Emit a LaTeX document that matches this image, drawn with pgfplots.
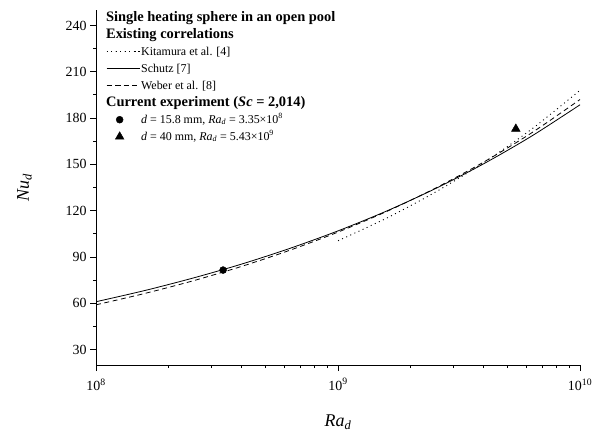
\documentclass[border=0pt]{standalone}
\usepackage{fontspec}
\setmainfont{Liberation Serif}
\usepackage{pgfplots}
\pgfplotsset{compat=1.18}

\begin{document}
\begin{tikzpicture}
\begin{axis}[
  name=ax,
  scale only axis, width=484bp, height=355bp,
  xmode=log, xmin=1e8, xmax=1e10,
  ymin=20, ymax=250,
  axis x line*=bottom, axis y line*=left,
  axis line style={-, line width=0.9pt},
  tick align=outside, tick style={black, line width=0.8pt},
  major tick length=6bp, minor tick length=3bp,
  xtick={1e8,1e9,1e10},
  xticklabels={10\textsuperscript{8},10\textsuperscript{9},10\textsuperscript{10}},
  ytick={30,60,...,240}, minor ytick={45,75,...,255},
  /pgf/number format/assume math mode=true,
  tick label style={font=\fontsize{14}{16}\selectfont},
  xticklabel style={yshift=-4bp},
  xlabel={\textit{Ra}\textsubscript{\textit{d}}},
  ylabel={\textit{Nu}\textsubscript{\textit{d}}},
  label style={font=\fontsize{18}{20}\selectfont},
  xlabel style={yshift=-18bp},
  ylabel style={yshift=27bp},
  legend cell align=left,
  legend image code/.code={\draw[mark repeat=2,mark phase=2,#1] plot coordinates {(0bp,0bp)(13bp,0bp)(33bp,0bp)};},
  legend style={draw=none, fill=none, at={(rel axis cs:0,1)}, anchor=north west,
    inner sep=0pt, xshift=10bp, yshift=-1bp, row sep=4bp, column sep=0pt,
    nodes={inner xsep=1bp, inner ysep=0pt, text height=10bp, text depth=3bp},
    font=\fontsize{12}{14}\selectfont},
]
\addlegendimage{empty legend}
\addlegendentry{\hspace*{-35bp}\fontsize{14.5}{16}\selectfont\textbf{Single heating sphere in an open pool}}
\addlegendimage{empty legend}
\addlegendentry{\hspace*{-35bp}\fontsize{14.5}{16}\selectfont\textbf{Existing correlations}}

% Kitamura et al. [4]
\addplot[black, line width=0.9pt, dash pattern=on 1bp off 3.5bp, smooth] coordinates {
  (1e9,100.5) (1.585e9,115.1) (2.512e9,131.8) (3.981e9,150.9) (6.310e9,172.8) (1e10,198.0)};
\addlegendentry{Kitamura et al. [4]}

% Schutz [7]
\addplot[black, line width=0.8pt, smooth] coordinates {
  (1e8,61.0) (1.585e8,68.2) (2.512e8,76.3) (3.981e8,85.3) (6.310e8,95.5) (1e9,106.9)
  (1.585e9,119.7) (2.512e9,134.1) (3.981e9,150.2) (6.310e9,168.3) (1e10,188.6)};
\addlegendentry{Schutz [7]}

% Weber et al. [8]
\addplot[black, line width=0.8pt, dash pattern=on 5bp off 3.5bp, smooth] coordinates {
  (1e8,59.0) (1.585e8,66.3) (2.512e8,74.5) (3.981e8,83.8) (6.310e8,94.3) (1e9,106.1)
  (1.585e9,119.4) (2.512e9,134.4) (3.981e9,151.3) (6.310e9,170.4) (1e10,192.0)};
\addlegendentry{Weber et al. [8]}

\addlegendimage{empty legend}
\addlegendentry{\hspace*{-35bp}\fontsize{14.5}{16}\selectfont\textbf{Current experiment (\textit{Sc} = 2,014)}}

\addplot[only marks, mark=*, mark size=3.5bp, black] coordinates {(3.35e8,81.5)};
\addlegendentry{\textit{d} = 15.8 mm, \textit{Ra}\textsubscript{\textit{d}} = 3.35×10\textsuperscript{8}}

\addplot[only marks, mark=triangle*, mark size=5bp, black] coordinates {(5.43e9,173)};
\addlegendentry{\textit{d} = 40 mm, \textit{Ra}\textsubscript{\textit{d}} = 5.43×10\textsuperscript{9}}
\end{axis}
\pgfresetboundingbox
\path (ax.south west) ++(-96bp,-68bp) rectangle ++(602bp,433bp);
\end{tikzpicture}
\end{document}
